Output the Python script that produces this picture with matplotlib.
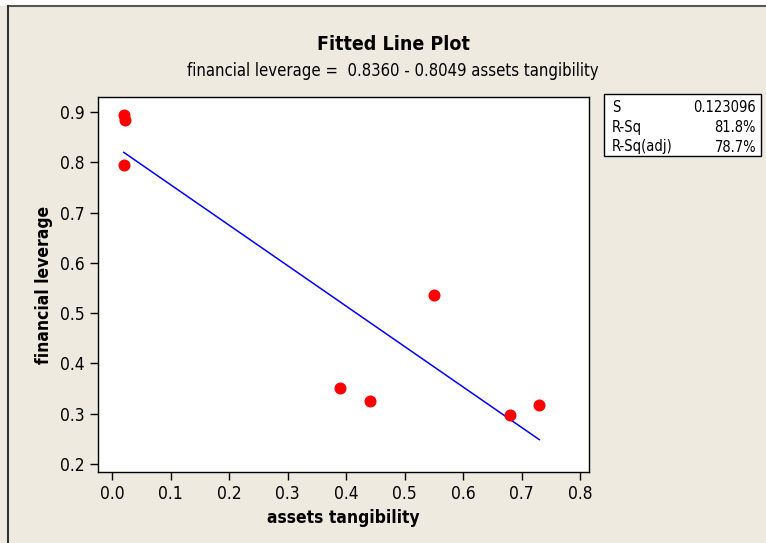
import matplotlib.pyplot as plt
from matplotlib.patches import Rectangle
from matplotlib.lines import Line2D

# data
tangibility = [0.02, 0.022, 0.02, 0.39, 0.44, 0.55, 0.68, 0.73]
leverage = [0.895, 0.885, 0.795, 0.352, 0.325, 0.537, 0.298, 0.318]
intercept = 0.8360
slope = -0.8049
stat_names = ['S', 'R-Sq', 'R-Sq(adj)']
stat_values = ['0.123096', '81.8%', '78.7%']
x_ticks = [0.0, 0.1, 0.2, 0.3, 0.4, 0.5, 0.6, 0.7, 0.8]
y_ticks = [0.2, 0.3, 0.4, 0.5, 0.6, 0.7, 0.8, 0.9]

bg = '#EEEAE0'
plt.rcParams['font.family'] = ['DejaVu Sans']
plt.rcParams['font.stretch'] = 'condensed'

fig = plt.figure(figsize=(7.66, 5.43), dpi=100)
fig.patch.set_facecolor(bg)

W, H = 766, 543
ax = fig.add_axes([98 / W, 1 - 472 / H, (589 - 98) / W, (472 - 97) / H])
ax.set_facecolor('white')

ax.scatter(tangibility, leverage, s=75, color='#FF0000', zorder=3, linewidths=0)
xs = [min(tangibility), max(tangibility)]
ax.plot(xs, [intercept + slope * x for x in xs], color='#0000FF', lw=1.1, zorder=2)

ax.set_xlim(-0.024, 0.815)
ax.set_ylim(0.184, 0.93)
ax.set_xticks(x_ticks)
ax.set_yticks(y_ticks)
ax.set_xticklabels([f'{t:.1f}' for t in x_ticks])
ax.set_yticklabels([f'{t:.1f}' for t in y_ticks])
ax.tick_params(direction='out', length=6, width=1, labelsize=12.5, color='black')
for sp in ax.spines.values():
    sp.set_color('black')
    sp.set_linewidth(1)

ax.set_xlabel('assets tangibility', fontsize=12.5, fontweight='bold', labelpad=4)
ax.set_ylabel('financial leverage', fontsize=12.5, fontweight='bold', labelpad=5)

fig.text(393 / W, 1 - 45 / H, 'Fitted Line Plot', ha='center', va='center',
         fontsize=14, fontweight='bold')
fig.text(393 / W, 1 - 71 / H,
         f'financial leverage =  {intercept:.4f} - {abs(slope):.4f} assets tangibility',
         ha='center', va='center', fontsize=12)

# stats box
fig.patches.append(Rectangle((604 / W, 1 - 156 / H), (761 - 604) / W, (156 - 94) / H,
                             transform=fig.transFigure, facecolor='white',
                             edgecolor='black', lw=1))
for i, (n, v) in enumerate(zip(stat_names, stat_values)):
    y = 1 - (108 + i * 19.5) / H
    fig.text(612 / W, y, n, ha='left', va='center', fontsize=10.5)
    fig.text(756 / W, y, v, ha='right', va='center', fontsize=10.5)

# outer frame of the graph window
fig.patches.append(Rectangle((0, 1 - 6 / H), 1, 6 / H, transform=fig.transFigure,
                             facecolor='white', edgecolor='none'))
fig.lines.append(Line2D([8 / W, 1], [1 - 6 / H, 1 - 6 / H], transform=fig.transFigure,
                        color='#555555', lw=1.5))
fig.lines.append(Line2D([8 / W, 8 / W], [0, 1 - 6 / H], transform=fig.transFigure,
                        color='#333333', lw=1.5))

fig.savefig('out.png', dpi=100, facecolor=fig.get_facecolor())
